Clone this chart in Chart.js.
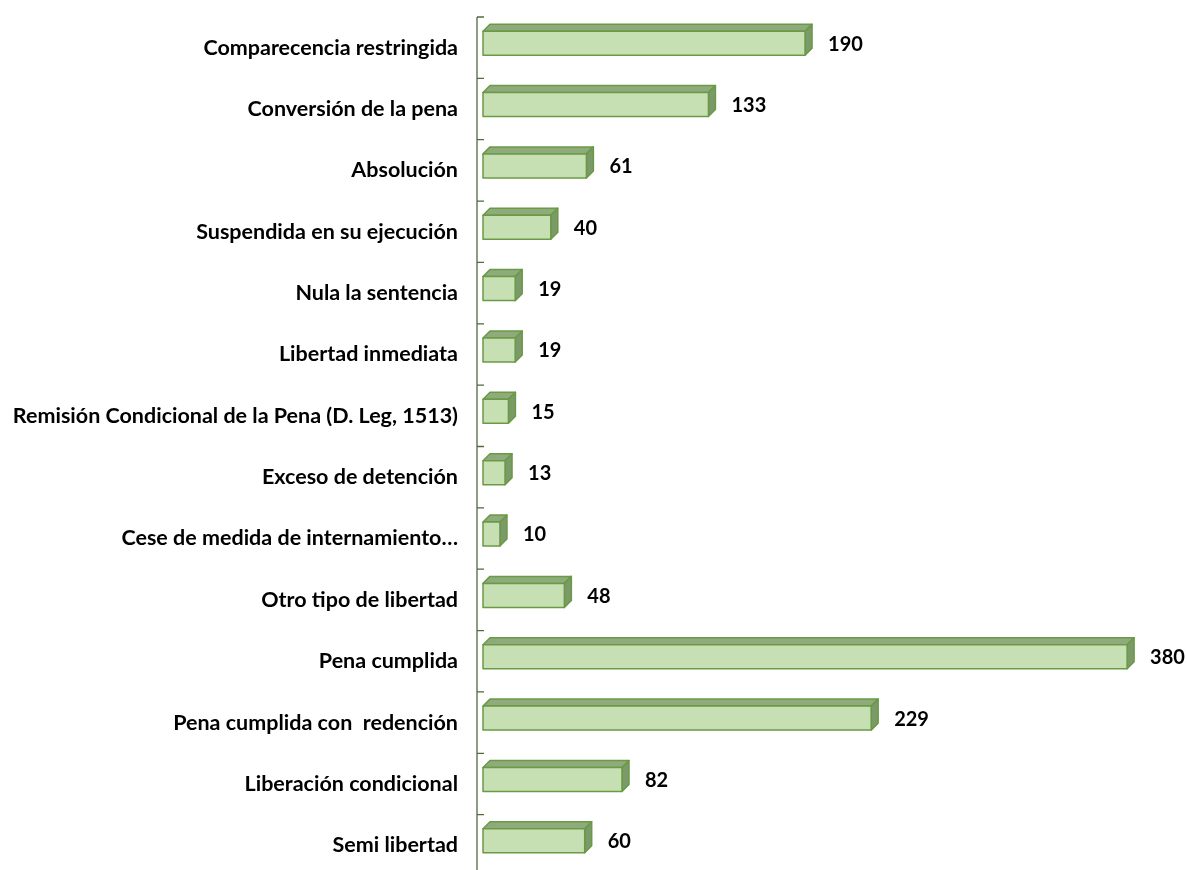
<!DOCTYPE html>
<html>
<head>
<meta charset="utf-8">
<script src="https://cdn.jsdelivr.net/npm/chart.js@4.4.0/dist/chart.umd.min.js"></script>
<style>
  html, body { margin: 0; padding: 0; background: #fff; overflow: hidden; }
  canvas { display: block; }
</style>
</head>
<body>
<canvas id="chart" width="1187" height="877"></canvas>
<script>
// categorías y valores
const categorias = [
    'Comparecencia restringida',
    'Conversión de la pena',
    'Absolución',
    'Suspendida en su ejecución',
    'Nula la sentencia',
    'Libertad inmediata',
    'Remisión Condicional de la Pena (D. Leg, 1513)',
    'Exceso de detención',
    'Cese de medida de internamiento…',
    'Otro tipo de libertad',
    'Pena cumplida',
    'Pena cumplida con  redención',
    'Liberación condicional',
    'Semi libertad'
];
const valores = [190, 133, 61, 40, 19, 19, 15, 13, 10, 48, 380, 229, 82, 60];

const FONT = 'Lato, "DejaVu Sans", sans-serif';
const DEPTH = 7;

// dibuja las barras en 3D, el eje y las etiquetas de valor
const bar3d = {
    id: 'bar3d',
    afterDatasetsDraw(chart) {
        const ctx = chart.ctx;
        const yScale = chart.scales.y;
        const area = chart.chartArea;
        const meta = chart.getDatasetMeta(0);

        ctx.save();
        // eje vertical y marcas
        ctx.strokeStyle = '#4f6b3c';
        ctx.lineWidth = 1.3;
        const ax = area.left - 6;
        ctx.beginPath();
        ctx.moveTo(ax, area.top);
        ctx.lineTo(ax, area.bottom);
        for (let i = 0; i <= categorias.length; i++) {
            const y = yScale.getPixelForValue(i - 0.5);
            ctx.moveTo(ax, y);
            ctx.lineTo(ax + 7, y);
        }
        ctx.stroke();

        meta.data.forEach((el, i) => {
            const h = 24;
            const x0 = el.base;
            const x1 = el.x;
            const yt = el.y - 4.5 - h / 2;
            const yb = yt + h;

            ctx.lineWidth = 1.5;
            ctx.strokeStyle = '#6a9a45';
            ctx.lineJoin = 'round';

            // cara superior
            ctx.fillStyle = '#8fab7c';
            ctx.beginPath();
            ctx.moveTo(x0, yt);
            ctx.lineTo(x0 + DEPTH, yt - DEPTH);
            ctx.lineTo(x1 + DEPTH, yt - DEPTH);
            ctx.lineTo(x1, yt);
            ctx.closePath();
            ctx.fill();
            ctx.stroke();

            // cara lateral
            ctx.fillStyle = '#7c996a';
            ctx.beginPath();
            ctx.moveTo(x1, yt);
            ctx.lineTo(x1 + DEPTH, yt - DEPTH);
            ctx.lineTo(x1 + DEPTH, yb - DEPTH);
            ctx.lineTo(x1, yb);
            ctx.closePath();
            ctx.fill();
            ctx.stroke();

            // cara frontal
            ctx.fillStyle = '#c6e0b4';
            ctx.fillRect(x0, yt, x1 - x0, h);
            ctx.strokeRect(x0, yt, x1 - x0, h);

            // valor
            ctx.fillStyle = '#000';
            ctx.font = 'bold 20px ' + FONT;
            ctx.textAlign = 'left';
            ctx.textBaseline = 'middle';
            ctx.fillText(String(valores[i]), x1 + DEPTH + 16, yt + h / 2 + 1);
        });
        ctx.restore();
    }
};

new Chart(document.getElementById('chart'), {
    type: 'bar',
    data: {
        labels: categorias,
        datasets: [{
            data: valores,
            backgroundColor: 'rgba(0,0,0,0)',
            borderWidth: 0,
            barThickness: 24
        }]
    },
    options: {
        indexAxis: 'y',
        responsive: false,
        animation: false,
        layout: { padding: { top: 17, right: 26, bottom: 1, left: 0 } },
        plugins: {
            legend: { display: false },
            tooltip: { enabled: false }
        },
        scales: {
            x: {
                display: false,
                min: 0,
                max: 400
            },
            y: {
                afterFit: (scale) => {
                    scale.width = 483;
                    scale.paddingTop = 0;
                    scale.paddingBottom = 0;
                },
                grid: { display: false },
                border: { display: false },
                ticks: {
                    color: '#000',
                    padding: 17,
                    font: { family: FONT, size: 21.5, weight: 'bold' }
                }
            }
        }
    },
    plugins: [bar3d]
});
</script>
</body>
</html>
